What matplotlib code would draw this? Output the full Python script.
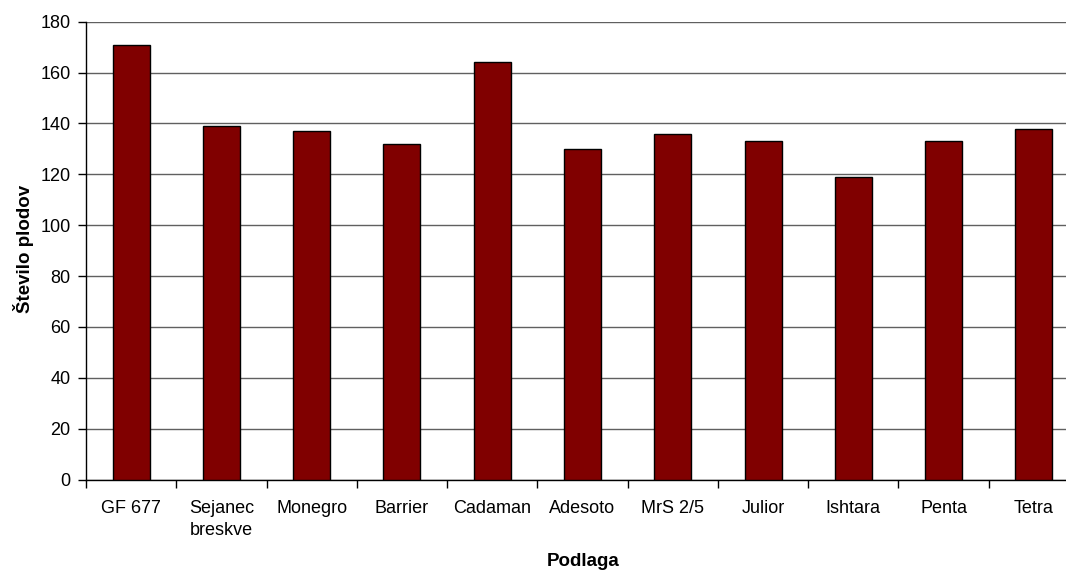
import numpy as np
import matplotlib.pyplot as plt

podlage = ["GF 677", "Sejanec\nbreskve", "Monegro", "Barrier", "Cadaman", "Adesoto",
           "MrS 2/5", "Julior", "Ishtara", "Penta", "Tetra"]
plodovi = [171, 139, 137, 132, 164, 130, 136, 133, 119, 133, 138]

plt.rcParams['font.family'] = ['Liberation Sans', 'DejaVu Sans']

fig = plt.figure(figsize=(10.66, 5.71), dpi=100)
W, H = 1066, 571
ax = fig.add_axes([86 / W, (H - 479.5) / H, 993 / W, (479.5 - 21.7) / H])

x = np.arange(len(podlage))
ax.bar(x, plodovi, width=0.41, color='#800000', edgecolor='black', linewidth=1, zorder=3)

ax.set_xlim(-0.5, len(podlage) - 0.5)
ax.set_ylim(0, 180)
ax.set_yticks(range(0, 181, 20))
ax.yaxis.grid(True, color='#606060', linewidth=1, zorder=0)

# tick marks between categories, labels under the bars
ax.set_xticks(np.arange(-0.5, len(podlage), 1))
ax.set_xticklabels([])
ax.set_xticks(x, minor=True)
ax.set_xticklabels(podlage, minor=True, fontsize=13, linespacing=1.35)
ax.tick_params(axis='x', which='minor', length=0, pad=15)
ax.tick_params(axis='x', which='major', direction='out', length=6, width=1)
ax.tick_params(axis='y', direction='out', length=6, width=1, labelsize=13, pad=5)

for s in ['top', 'right']:
    ax.spines[s].set_visible(False)
for s in ['left', 'bottom']:
    ax.spines[s].set_color('black')
    ax.spines[s].set_linewidth(1)

fig.text(24 / W, 1 - 249 / H, "Število plodov", rotation=90, ha='center', va='center',
         fontsize=13.5, fontweight='bold')
fig.text(583 / W, 1 - 562 / H, "Podlaga", ha='center', va='center',
         fontsize=13.5, fontweight='bold')

fig.savefig('out.png', dpi=100)
